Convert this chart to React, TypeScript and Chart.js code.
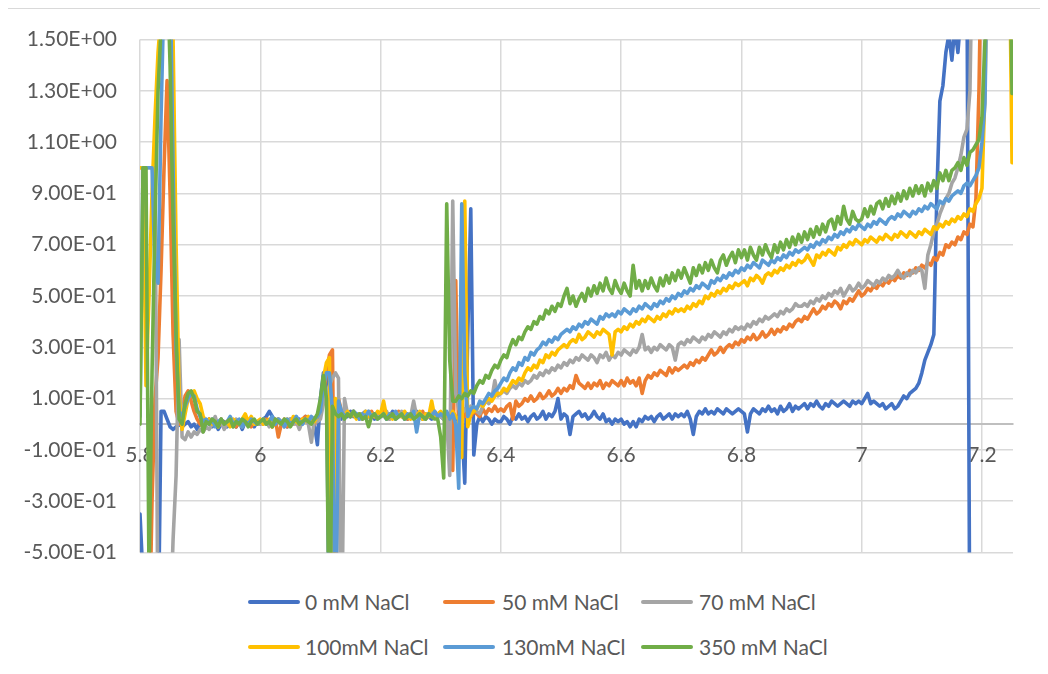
import React, { useEffect, useRef } from "react";
import { Chart, registerables } from "chart.js";

Chart.register(...registerables);

// ---- sampling grid of the potential sweep (x) ----
const X_START = 5.8;
const X_STEP = 0.005;
const X_MIN = 5.8;
const X_MAX = 7.2516;
const Y_MIN = -0.5;
const Y_MAX = 1.5;

const X_TICKS = [5.8, 6, 6.2, 6.4, 6.6, 6.8, 7, 7.2];
const X_TICK_LABELS = ["5.8", "6", "6.2", "6.4", "6.6", "6.8", "7", "7.2"];
const Y_TICKS = [-0.5, -0.3, -0.1, 0.1, 0.3, 0.5, 0.7, 0.9, 1.1, 1.3, 1.5];
const Y_TICK_LABELS = [
  "-5.00E-01", "-3.00E-01", "-1.00E-01", "1.00E-01", "3.00E-01", "5.00E-01",
  "7.00E-01", "9.00E-01", "1.10E+00", "1.30E+00", "1.50E+00",
];

const SERIES_LABELS = ["0 mM NaCl", "50 mM NaCl", "70 mM NaCl", "100mM NaCl", "130mM NaCl", "350 mM NaCl"];
const SERIES_COLORS = ["#4472C4", "#ED7D31", "#A5A5A5", "#FFC000", "#5B9BD5", "#70AD47"];

// ---- series values (one value per grid step) ----
const NACL_0 = [
  -0.35,-0.6,-0.9,-0.9,-0.9,-0.9,-0.9,0.05,0.05,0.02,-0.01,-0.02,-0.01,0,-0.01,0,0.01,-0.01,0,-0.02,
  0.01,-0.01,0,0.02,-0.01,0.01,-0.02,0,0.01,-0.01,0.02,0,-0.01,0.01,-0.02,0.01,0,0.02,-0.01,0.01,
  0,0.02,0.03,0.05,0.03,0.01,0.02,0,0.01,-0.01,0.02,0,0.01,0.02,0,0.03,0.01,0.02,0,-0.08,
  0.1,0.2,0.21,-0.9,0.06,0.03,0.04,0.02,0.04,0.03,0.05,0.03,0.04,0.02,0.04,0.05,0.03,0.04,0.02,0.03,
  0.03,0.04,0.02,0.03,0.05,0.02,0.03,0.04,0.03,0.02,0.04,0.03,0.05,0.03,0.02,0.04,0.03,0.02,0.03,0.04,
  0.03,0.02,0.04,0.03,0.02,0.03,0.01,0,-0.23,0.35,0.84,-0.12,0,0.03,0.01,0.03,0.02,0,0.02,0.01,
  0.01,0.03,0.02,0,0.03,0.02,0.04,0.02,0.03,0.01,0.03,0.04,0.02,0.03,0.05,0.02,0.04,0.03,0.05,0.1,
  0.02,0.04,0.03,-0.04,0.03,0.04,0.05,0.03,0.04,0.02,0.03,0.05,0.03,0.02,0.04,0.01,0.02,0,0.02,0.01,
  0.02,0,0.01,-0.01,0.01,-0.01,0.02,0.01,0.03,0.02,0.03,0.01,0.03,0.04,0.02,0.03,0.04,0.02,0.04,0.03,
  0.04,0.03,0.05,0.02,-0.04,0.03,0.05,0.04,0.06,0.04,0.05,0.04,0.06,0.05,0.04,0.06,0.05,0.04,0.05,0.06,
  0.05,0.04,-0.03,0.04,0.06,0.05,0.04,0.06,0.05,0.07,0.05,0.06,0.04,0.07,0.05,0.06,0.08,0.05,0.07,0.06,
  0.07,0.08,0.06,0.08,0.07,0.09,0.07,0.06,0.08,0.07,0.09,0.08,0.07,0.08,0.09,0.08,0.07,0.09,0.08,0.09,
  0.08,0.1,0.12,0.08,0.09,0.08,0.07,0.08,0.06,0.07,0.08,0.06,0.07,0.09,0.11,0.1,0.12,0.13,0.14,0.16,
  0.2,0.25,0.28,0.31,0.35,0.9,1.26,1.32,1.45,1.52,1.42,1.55,1.45,1.6,1.7,1.8,-1,-1,-1,-1,
  -1,-1,-1,-1,-1,-1,-1,-1,-1,-1,-1,-1,-1,
];

const NACL_50 = [
  -0.9,-0.9,-0.9,-0.9,-0.3,0.1,0.26,0.6,1.0,1.34,0.9,0.35,0.05,0,0.05,0.11,0.13,0.09,0.05,0.02,
  0,-0.01,0.01,0.02,0,0.01,-0.01,0.02,0,0.01,0.02,0,-0.01,0.01,0,0.02,0.01,-0.01,0.01,0,
  0.01,0,0.02,0.01,-0.01,0.02,-0.05,0,0.02,-0.01,0.01,0.02,0,0.01,0.02,0.03,0.01,0.02,0,0.03,
  0.05,0.12,0.2,0.27,0.29,-0.8,0.1,0.05,0.03,0.04,0.03,0.05,0.03,0.04,0.02,0.04,0.03,0.05,0.03,0.04,
  0.03,0.05,0.04,0.02,0.04,0.03,0.05,0.03,0.04,0.02,0.03,0.05,0.04,0.03,0.05,0.02,0.04,0.03,0.05,0.03,
  0.04,0.03,0.02,0,-0.18,0.56,-0.05,0.05,0.03,0.05,0.03,0.05,0.04,0.03,0.06,0.04,0.06,0.05,0.07,0.05,
  0.06,0.05,0.07,0.08,0.02,0.09,0.07,0.08,0.1,0.09,0.11,0.09,0.1,0.12,0.1,0.11,0.13,0.11,0.12,0.14,
  0.12,0.14,0.13,0.15,0.14,0.19,0.16,0.15,0.14,0.16,0.14,0.16,0.15,0.17,0.14,0.16,0.15,0.17,0.16,0.15,
  0.17,0.15,0.18,0.16,0.17,0.15,0.18,0.12,0.17,0.19,0.18,0.2,0.19,0.21,0.2,0.19,0.22,0.2,0.22,0.21,
  0.22,0.23,0.22,0.24,0.23,0.25,0.24,0.26,0.25,0.27,0.29,0.27,0.28,0.3,0.28,0.3,0.31,0.3,0.32,0.31,
  0.33,0.32,0.34,0.33,0.35,0.33,0.34,0.36,0.34,0.35,0.37,0.35,0.37,0.36,0.38,0.37,0.39,0.38,0.4,0.41,
  0.4,0.42,0.41,0.43,0.45,0.43,0.44,0.46,0.45,0.47,0.46,0.48,0.47,0.45,0.48,0.47,0.49,0.48,0.5,0.52,
  0.5,0.51,0.53,0.52,0.54,0.53,0.55,0.54,0.56,0.55,0.57,0.56,0.58,0.57,0.59,0.58,0.6,0.59,0.61,0.6,
  0.62,0.61,0.63,0.62,0.65,0.64,0.67,0.66,0.7,0.69,0.71,0.7,0.73,0.72,0.75,0.74,0.78,0.77,0.88,1.3,
  2,2,2,2,2,2,2,2,2,2,2,2,2,
];

const NACL_70 = [
  1,1,1,1,1,1,-0.9,-1,-1,-1,-0.8,-0.45,-0.2,0.33,-0.05,-0.06,-0.03,-0.05,-0.03,-0.04,
  -0.02,-0.03,-0.01,-0.02,0,0.03,-0.01,0.01,-0.02,0,0.01,-0.01,0.02,0,-0.01,0.01,0,0.02,0,0.01,
  0,0.02,0.01,-0.01,0.01,0,0.02,0.01,-0.01,0.01,0.02,0,0.01,-0.02,0.01,0.02,0,-0.07,0.02,0.01,
  0.02,0.08,0.12,0.15,0.18,0.2,0.18,-0.9,0.1,0.04,0.03,0.05,0.03,0.04,0.02,0.03,0.05,0.03,0.04,0.03,
  0.04,0.03,0.05,0.02,0.03,0.04,0.03,0.05,0.02,0.04,0.03,0.09,0.03,0.04,0.02,0.04,0.03,0.05,0.03,0.04,
  0.03,0.02,0.02,-0.2,0.87,0.12,0.06,0.04,0.06,0.05,0.07,0.06,0.05,0.04,0.07,0.09,0.08,0.1,0.17,0.11,
  0.12,0.13,0.12,0.14,0.15,0.14,0.16,0.15,0.17,0.16,0.17,0.19,0.18,0.2,0.19,0.21,0.2,0.22,0.21,0.23,
  0.22,0.24,0.23,0.25,0.24,0.26,0.25,0.27,0.26,0.25,0.27,0.26,0.24,0.27,0.26,0.28,0.25,0.27,0.26,0.28,
  0.27,0.29,0.28,0.27,0.29,0.28,0.3,0.35,0.29,0.3,0.28,0.3,0.29,0.31,0.3,0.29,0.31,0.3,0.25,0.31,
  0.32,0.31,0.33,0.32,0.34,0.33,0.32,0.34,0.33,0.35,0.34,0.36,0.35,0.34,0.36,0.35,0.37,0.36,0.38,0.37,
  0.38,0.37,0.39,0.38,0.4,0.39,0.41,0.4,0.42,0.41,0.42,0.43,0.42,0.44,0.43,0.45,0.44,0.45,0.47,0.46,
  0.46,0.47,0.46,0.48,0.47,0.49,0.48,0.5,0.49,0.51,0.5,0.52,0.51,0.53,0.5,0.52,0.54,0.52,0.53,0.55,
  0.53,0.54,0.56,0.55,0.54,0.56,0.55,0.57,0.56,0.58,0.57,0.58,0.6,0.58,0.57,0.59,0.58,0.6,0.59,0.61,
  0.6,0.53,0.66,0.7,0.75,0.78,0.82,0.85,0.88,0.9,0.94,0.96,1,1.05,1.12,1.15,1.3,2,2,2,
  2,2,2,2,2,2,2,2,2,2,2,2,2,
];

const NACL_100 = [
  1,1,0.15,0.5,0.9,1.2,1.45,1.6,2.2,2.5,2,1.5,0.7,0.12,-0.02,0.04,0.1,0.12,0.13,0.1,
  0.08,0.03,0.01,0.02,0,0.01,-0.01,0.02,0,0.01,-0.01,0.02,0.01,0,0.02,0.04,0.01,0.03,0,0.01,
  0.02,0,0.01,0.02,-0.01,0.01,0.02,0,0.01,0.02,0,0.03,0.01,0,0.02,0.01,0.03,0.02,0.01,0.03,
  0.06,0.18,0.24,0.26,-0.9,0.1,0.05,0.04,0.03,0.05,0.03,0.04,0.02,0.04,0.03,0.05,0.03,0.04,0.03,0.05,
  0.04,0.09,0.03,0.04,0.02,0.03,0.04,0.03,0.05,0.03,0.02,0.04,0.03,0.05,0.02,0.04,0.03,0.09,0.03,0.04,
  0.05,0.03,0.04,0.02,0.05,0.03,0.02,-0.13,0.87,-0.01,0.04,0.05,0.06,0.08,0.07,0.09,0.1,0.09,0.11,0.12,
  0.12,0.14,0.13,0.15,0.17,0.16,0.18,0.17,0.2,0.22,0.21,0.23,0.22,0.25,0.24,0.27,0.26,0.28,0.27,0.29,
  0.3,0.31,0.3,0.32,0.33,0.32,0.35,0.33,0.34,0.36,0.35,0.34,0.36,0.35,0.37,0.36,0.35,0.27,0.36,0.37,
  0.36,0.38,0.37,0.39,0.38,0.4,0.39,0.41,0.4,0.42,0.41,0.4,0.42,0.41,0.43,0.42,0.44,0.43,0.45,0.44,
  0.45,0.44,0.46,0.45,0.47,0.46,0.48,0.47,0.5,0.49,0.51,0.5,0.52,0.51,0.53,0.52,0.54,0.53,0.55,0.54,
  0.55,0.56,0.54,0.57,0.56,0.58,0.57,0.55,0.58,0.59,0.58,0.6,0.59,0.61,0.6,0.62,0.61,0.63,0.62,0.64,
  0.63,0.64,0.66,0.64,0.62,0.66,0.65,0.67,0.66,0.68,0.67,0.66,0.69,0.68,0.7,0.69,0.71,0.7,0.72,0.71,
  0.7,0.72,0.71,0.73,0.72,0.71,0.73,0.72,0.74,0.73,0.72,0.74,0.73,0.75,0.74,0.73,0.75,0.74,0.73,0.75,
  0.74,0.76,0.75,0.74,0.77,0.76,0.78,0.77,0.79,0.78,0.8,0.79,0.81,0.8,0.82,0.81,0.84,0.83,0.86,0.88,
  0.92,1.3,2,2,2,2,2,2,2,2,1.02,1.02,1.02,
];

const NACL_130 = [
  0.03,1,1,1,1,0.6,0.55,1.2,1.7,2.2,1.8,1,0.3,0.05,0.03,0.07,0.1,0.12,0.11,0.06,
  0.03,0.01,0.02,0,0.02,-0.01,0.01,0.02,0,0.01,0.03,0,0.01,0.02,-0.01,0.01,0,0.02,0.01,0,
  0.01,0.02,0,0.01,0.03,0,0.02,0.01,-0.01,0.02,0,0.01,0.03,0.01,0,0.02,0.01,0.03,0.02,0.03,
  0.05,0.15,0.2,0.2,0.05,-0.9,0.09,0.05,0.03,0.04,0.03,0.05,0.04,0.02,0.04,0.03,0.05,0.03,0.04,0.02,
  0.03,0.04,0.02,0.04,0.03,0.05,0.03,0.04,0.02,0.04,0.03,0.05,-0.03,0.04,0.03,0.02,0.04,0.03,0.05,0.03,
  0.04,0.03,0.05,0.02,0.04,0,-0.25,0.86,0.2,0.03,0.06,0.07,0.06,0.09,0.08,0.1,0.12,0.11,0.13,0.14,
  0.16,0.18,0.17,0.2,0.22,0.21,0.24,0.23,0.26,0.25,0.28,0.27,0.29,0.3,0.32,0.31,0.33,0.32,0.34,0.33,
  0.35,0.36,0.37,0.36,0.38,0.37,0.39,0.38,0.4,0.39,0.41,0.4,0.39,0.42,0.41,0.43,0.42,0.43,0.42,0.44,
  0.43,0.45,0.44,0.43,0.45,0.44,0.46,0.45,0.47,0.46,0.45,0.47,0.46,0.48,0.47,0.49,0.48,0.5,0.49,0.51,
  0.5,0.52,0.51,0.53,0.52,0.54,0.53,0.55,0.54,0.53,0.56,0.55,0.57,0.56,0.58,0.57,0.59,0.58,0.6,0.59,
  0.61,0.6,0.62,0.61,0.63,0.62,0.61,0.64,0.63,0.62,0.64,0.63,0.65,0.64,0.66,0.65,0.67,0.66,0.68,0.67,
  0.68,0.69,0.68,0.7,0.69,0.71,0.7,0.72,0.71,0.73,0.72,0.74,0.73,0.75,0.74,0.76,0.75,0.77,0.76,0.78,
  0.77,0.76,0.78,0.77,0.79,0.78,0.8,0.79,0.78,0.8,0.81,0.8,0.82,0.81,0.83,0.82,0.81,0.83,0.82,0.84,
  0.83,0.85,0.84,0.86,0.85,0.84,0.87,0.86,0.88,0.87,0.89,0.9,0.91,0.9,0.93,0.94,0.93,0.95,0.97,1,
  1.1,1.25,2,2,2,2,2,2,2,2,2,2,0,
];

const NACL_350 = [
  0,1,1,-0.6,0.2,0.8,1.3,1.55,2,1.8,1.4,0.8,0.35,0.02,0,0.08,0.12,0.13,0.1,0.05,
  0.04,-0.03,0.01,0,0.02,0.01,-0.01,0.02,0,0.01,0.02,-0.01,0.01,0,0.02,0.01,-0.01,0.01,0.02,0,
  0.01,0.02,0,0.01,-0.01,0.02,0.01,0,0.02,0.01,-0.01,0.01,0.02,0,0.01,0.02,0.01,0,0.02,0.04,
  0.1,0.19,0.1,-0.9,0.07,0.04,0.03,0.04,0.02,0.04,0.03,0.05,0.03,0.04,0.02,0.03,-0.01,0.03,0.04,0.02,
  0.03,0.04,0.02,0.03,0.04,0.02,0.03,0.04,0.02,0.03,0.04,0.02,0.03,0.04,0.03,0.02,0.04,0.03,0.02,0.02,
  -0.05,-0.21,0.86,0.25,0.09,0.09,0.11,0.1,0.12,0.11,0.13,0.12,0.15,0.17,0.16,0.19,0.18,0.21,0.23,0.22,
  0.25,0.27,0.26,0.3,0.33,0.31,0.34,0.33,0.36,0.38,0.37,0.4,0.39,0.42,0.41,0.445,0.43,0.46,0.44,0.47,
  0.46,0.5,0.53,0.47,0.5,0.46,0.49,0.51,0.48,0.53,0.5,0.54,0.51,0.55,0.52,0.57,0.53,0.51,0.56,0.53,
  0.51,0.55,0.52,0.5,0.62,0.53,0.56,0.52,0.56,0.53,0.57,0.54,0.52,0.57,0.54,0.58,0.55,0.59,0.56,0.6,
  0.57,0.61,0.58,0.55,0.61,0.58,0.62,0.59,0.63,0.6,0.64,0.61,0.59,0.64,0.66,0.62,0.65,0.67,0.63,0.68,
  0.65,0.68,0.64,0.69,0.66,0.64,0.69,0.66,0.7,0.67,0.65,0.7,0.67,0.71,0.68,0.72,0.69,0.73,0.7,0.74,
  0.71,0.75,0.72,0.76,0.73,0.77,0.74,0.78,0.75,0.79,0.8,0.76,0.81,0.78,0.85,0.8,0.78,0.83,0.8,0.79,
  0.8,0.84,0.81,0.85,0.82,0.86,0.87,0.84,0.88,0.85,0.89,0.86,0.9,0.87,0.91,0.88,0.92,0.89,0.93,0.9,
  0.93,0.89,0.94,0.91,0.95,0.92,0.98,0.95,0.99,0.95,0.99,1,1.02,0.99,1.04,1.01,1.06,1.07,1.09,1.11,
  1.2,1.5,2,2,2,2,2,2,2,2,1.29,1.29,1.29,
];

const SERIES_VALUES = [NACL_0, NACL_50, NACL_70, NACL_100, NACL_130, NACL_350];

// ---- layout constants (page is offset by the body's 8px margin) ----
const FONT = "Lato, 'Open Sans', sans-serif";
const TEXT_COLOR = "#595959";
const LEGEND_LINE_LEFT = [240, 435, 633];
const LEGEND_TEXT_LEFT = [297, 494, 691];
const LEGEND_ROW_CENTER = [594, 639];
const CANVAS_TOP = -4;
const CANVAS_HEIGHT = 584;

export default function App() {
  const canvasRef = useRef<HTMLCanvasElement | null>(null);

  useEffect(() => {
    const canvas = canvasRef.current;
    if (!canvas) return;
    const n = SERIES_VALUES.length;
    const chart = new Chart(canvas, {
      type: "line",
      data: {
        datasets: SERIES_VALUES.map((vals, s) => ({
          label: SERIES_LABELS[s],
          data: vals.map((y, i) => ({ x: X_START + i * X_STEP, y })),
          borderColor: SERIES_COLORS[s],
          backgroundColor: SERIES_COLORS[s],
          borderWidth: 3.6,
          pointRadius: 0,
          pointHoverRadius: 0,
          tension: 0,
          fill: false,
          clip: 0,
          order: n - 1 - s,
          borderJoinStyle: "round",
          borderCapStyle: "round",
        })),
      },
      options: {
        responsive: false,
        maintainAspectRatio: false,
        animation: false,
        events: [],
        layout: { padding: { top: 26, right: 27, bottom: 14, left: 0 } },
        plugins: {
          legend: { display: false },
          tooltip: { enabled: false },
        },
        scales: {
          x: {
            type: "linear",
            position: { y: 0 } as any,
            min: X_MIN,
            max: X_MAX,
            afterBuildTicks: (scale: any) => {
              scale.ticks = X_TICKS.map((v) => ({ value: v }));
            },
            ticks: {
              autoSkip: false,
              maxRotation: 0,
              minRotation: 0,
              padding: 18,
              color: TEXT_COLOR,
              font: { family: FONT, size: 21 },
              callback: (_v: any, i: number) => X_TICK_LABELS[i],
            },
            grid: { color: "#D9D9D9", lineWidth: 1.5, drawTicks: false },
            border: { display: true, color: "#BFBFBF", width: 2 },
          },
          y: {
            type: "linear",
            position: "left",
            min: Y_MIN,
            max: Y_MAX,
            afterBuildTicks: (scale: any) => {
              scale.ticks = Y_TICKS.map((v) => ({ value: v }));
            },
            afterFit: (scale: any) => {
              scale.width = 132;
            },
            ticks: {
              padding: 23,
              color: TEXT_COLOR,
              font: { family: FONT, size: 21 },
              callback: (_v: any, i: number) => Y_TICK_LABELS[i],
            },
            grid: { color: "#D9D9D9", lineWidth: 1.5, drawTicks: false },
            border: { display: false },
          },
        },
      } as any,
    });
    return () => chart.destroy();
  }, []);

  return (
    <div style={{ position: "relative", width: 1032, height: 656, overflow: "visible" }}>
      <div
        style={{
          position: "absolute",
          left: -1,
          top: 0,
          width: 1033,
          height: 656,
          borderLeft: "1px solid #D9D9D9",
          borderTop: "1px solid #D9D9D9",
          boxSizing: "border-box",
        }}
      />
      <canvas
        ref={canvasRef}
        width={1032}
        height={CANVAS_HEIGHT}
        style={{ position: "absolute", left: 0, top: CANVAS_TOP, width: 1032, height: CANVAS_HEIGHT, display: "block" }}
      />
      {SERIES_LABELS.map((label, s) => {
        const col = s % 3;
        const row = Math.floor(s / 3);
        const cy = LEGEND_ROW_CENTER[row];
        return (
          <React.Fragment key={label}>
            <div
              style={{
                position: "absolute",
                left: LEGEND_LINE_LEFT[col],
                top: cy - 2,
                width: 52,
                height: 4,
                borderRadius: 2,
                background: SERIES_COLORS[s],
              }}
            />
            <div
              style={{
                position: "absolute",
                left: LEGEND_TEXT_LEFT[col],
                top: cy - 13,
                height: 26,
                lineHeight: "26px",
                fontFamily: FONT,
                fontSize: 21,
                color: TEXT_COLOR,
                whiteSpace: "nowrap",
              }}
            >
              {label}
            </div>
          </React.Fragment>
        );
      })}
    </div>
  );
}
